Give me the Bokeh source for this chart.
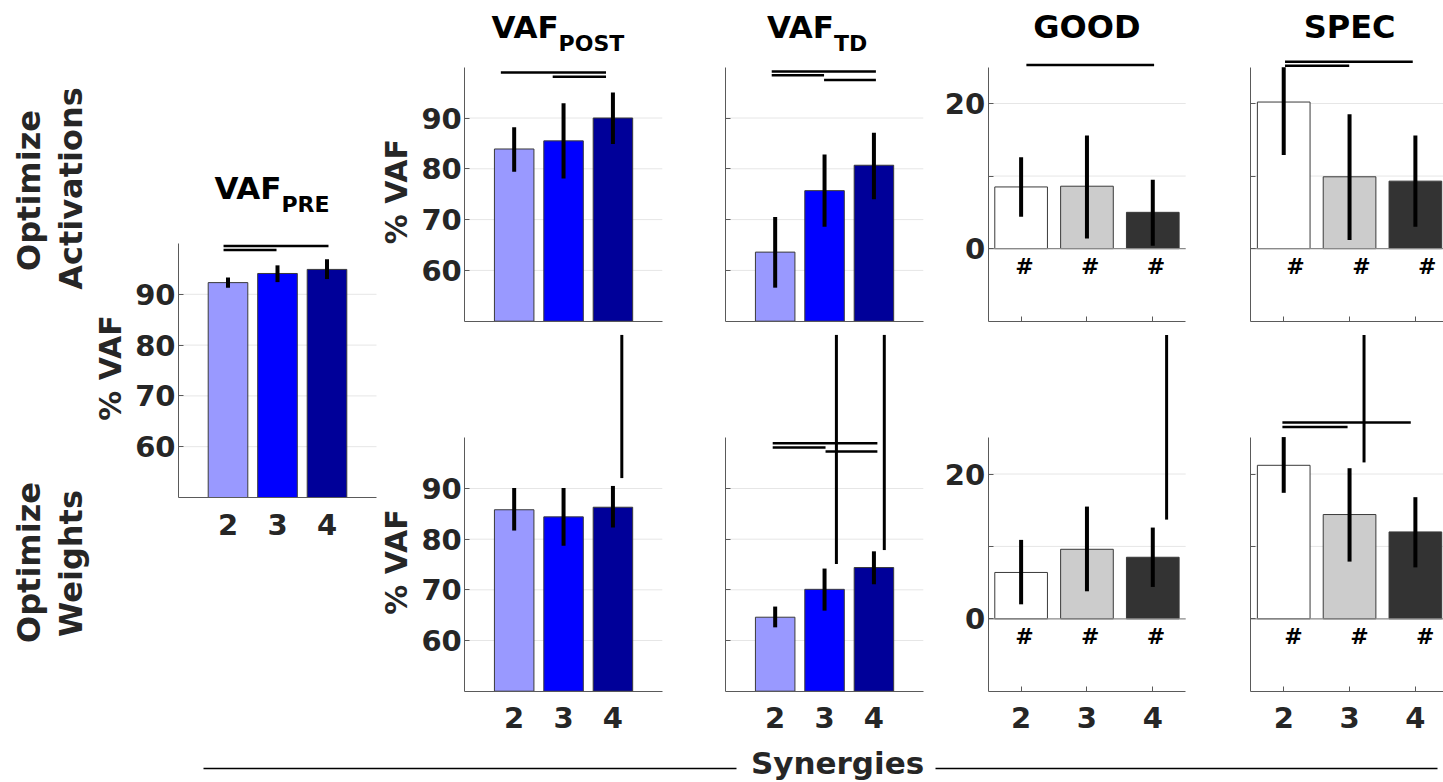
import math
from bokeh.plotting import figure
from bokeh.models import Range1d, LinearAxis, FixedTicker
from bokeh.core.properties import value
from bokeh.embed import file_html
from bokeh.resources import INLINE

W, H = 1443, 782
FONT = "DejaVu Sans"

# ---------------- data ----------------
synergies = [2, 3, 4]
tick_labels = ["2", "3", "4"]
vaf_colors = ["#9999ff", "#0000ff", "#000099"]
score_colors = ["#ffffff", "#cccccc", "#333333"]
vaf_ticks = [60, 70, 80, 90]
score_ticks = [0, 10, 20]

# VAF_PRE
pre_mean = [92.3, 94.1, 94.9]
pre_lo = [91.3, 92.4, 93.0]
pre_hi = [93.3, 95.7, 96.9]

# Optimize Activations
act_post_mean = [83.9, 85.5, 90.0]
act_post_lo = [79.4, 78.1, 84.9]
act_post_hi = [88.2, 92.9, 95.0]
act_td_mean = [63.6, 75.7, 80.7]
act_td_lo = [56.6, 68.6, 74.0]
act_td_hi = [70.5, 82.8, 87.1]
act_good_mean = [8.5, 8.6, 5.0]
act_good_lo = [4.4, 1.4, 0.4]
act_good_hi = [12.6, 15.6, 9.5]
act_spec_mean = [20.2, 9.9, 9.3]
act_spec_lo = [12.9, 1.2, 3.0]
act_spec_hi = [25.0, 18.5, 15.6]

# Optimize Weights
wt_post_mean = [85.8, 84.4, 86.3]
wt_post_lo = [81.7, 78.7, 82.3]
wt_post_hi = [90.1, 90.1, 90.5]
wt_td_mean = [64.6, 70.1, 74.4]
wt_td_lo = [62.6, 65.9, 71.1]
wt_td_hi = [66.7, 74.2, 77.6]
wt_good_mean = [6.4, 9.6, 8.5]
wt_good_lo = [2.0, 3.8, 4.4]
wt_good_hi = [10.9, 15.5, 12.6]
wt_spec_mean = [21.2, 14.4, 12.0]
wt_spec_lo = [17.4, 7.9, 7.1]
wt_spec_hi = [25.1, 20.8, 16.8]

# significance brackets: (x_start, x_end, y)
pre_sig = [(1.91, 4.03, 99.5), (1.91, 2.98, 98.7)]
act_post_sig = [(1.73, 3.86, 98.95), (2.78, 3.86, 98.1)]
act_td_sig = [(1.93, 4.04, 99.15), (1.93, 2.99, 98.4), (2.99, 4.04, 97.5)]
act_good_sig = [(2.08, 4.02, 25.3)]
act_spec_sig = [(2.02, 3.96, 25.75), (2.02, 2.995, 25.2)]
wt_post_sig = []
wt_td_sig = [(1.95, 4.07, 98.9), (1.95, 3.02, 98.1), (3.02, 4.07, 97.3)]
wt_good_sig = []
wt_spec_sig = [(1.98, 3.93, 27.1), (1.98, 2.97, 26.5)]

# long vertical marks: (x, y_low, y_high)
wt_post_vert = [(4.18, 92.05, 120.3)]
wt_td_vert = [(3.24, 75.1, 120.3), (4.21, 77.85, 120.3)]
wt_good_vert = [(4.21, 13.7, 39.2)]
wt_spec_vert = [(3.22, 21.6, 39.2)]

# ---------------- figure ----------------
p = figure(width=W, height=H, output_backend="svg", toolbar_location=None,
           x_range=Range1d(0, W), y_range=Range1d(H, 0),
           x_axis_location=None, y_axis_location=None, min_border=0,
           outline_line_color=None)
p.grid.visible = False

xr, yr = {}, {}
AX_COL = "#5a5a5a"
LBL_COL = "#262626"


def txt(x, y, s, key=None, size="29px", align="center", baseline="middle",
        angle=0.0, color=LBL_COL, x_offset=0):
    kw = {}
    if key is not None:
        kw = dict(x_range_name=key, y_range_name=key)
    p.text(x=[x], y=[y], text=[s], text_font=value(FONT), text_font_style="bold",
           text_font_size=size, text_align=align, text_baseline=baseline,
           angle=angle, text_color=color, x_offset=x_offset, **kw)


def style_axis(ax, tick_in=5):
    ax.axis_line_color = AX_COL
    ax.axis_line_width = 1
    ax.major_tick_line_color = AX_COL
    ax.major_tick_in = tick_in
    ax.major_tick_out = 0
    ax.minor_tick_in = 0
    ax.minor_tick_out = 0
    ax.major_label_text_font = FONT
    ax.major_label_text_font_style = "bold"
    ax.major_label_text_font_size = "29px"
    ax.major_label_text_color = LBL_COL


def panel(key, box, xlim, ylim, mean, lo, hi, colors, sig, vert, kind,
          ylabels=True, xlabels=False, hash_dx=None, title=None):
    px0, px1, pt, pb = box
    sx = (px1 - px0) / (xlim[1] - xlim[0])
    sy = (pb - pt) / (ylim[1] - ylim[0])
    xr[key] = Range1d(xlim[0] - px0 / sx, xlim[0] + (W - px0) / sx)
    yr[key] = Range1d(ylim[0] - (H - pb) / sy, ylim[1] + pt / sy)
    kw = dict(x_range_name=key, y_range_name=key)

    ticks = vaf_ticks if kind == "vaf" else score_ticks
    # gridlines
    gt = [t for t in ticks if t != 0]
    p.segment(x0=[xlim[0]] * len(gt), y0=gt, x1=[xlim[1]] * len(gt), y1=gt,
              line_color="#e6e6e6", line_width=1, **kw)
    base = ylim[0] if kind == "vaf" else 0
    p.vbar(x=synergies, top=mean, bottom=base, width=0.8, fill_color=colors,
           line_color="#3a3a3a", line_width=1, **kw)
    if kind != "vaf":
        p.segment(x0=[xlim[0]], y0=[0], x1=[xlim[1]], y1=[0],
                  line_color="#8a8a8a", line_width=1.2, **kw)
    # error bars
    p.segment(x0=synergies, y0=lo, x1=synergies, y1=hi, line_color="black",
              line_width=4, **kw)
    # significance brackets
    if sig:
        p.segment(x0=[s[0] for s in sig], y0=[s[2] for s in sig],
                  x1=[s[1] for s in sig], y1=[s[2] for s in sig],
                  line_color="black", line_width=2.5, **kw)
    if vert:
        p.segment(x0=[v[0] for v in vert], y0=[v[1] for v in vert],
                  x1=[v[0] for v in vert], y1=[v[2] for v in vert],
                  line_color="black", line_width=3, **kw)
    if hash_dx is not None:
        p.text(x=[s + hash_dx for s in synergies], y=[-2.5] * 3, text=["#"] * 3,
               text_font=value(FONT), text_font_style="bold", text_font_size="22px",
               text_align="center", text_baseline="middle", text_color="black", **kw)

    # axes
    yax = LinearAxis(ticker=FixedTicker(ticks=ticks), fixed_location=xlim[0],
                     bounds=ylim, **kw)
    style_axis(yax, tick_in=5)
    if not ylabels:
        yax.major_label_overrides = {t: "" for t in ticks}
    elif kind != "vaf":
        yax.major_label_overrides = {10: ""}
    yax.major_label_standoff = 3
    p.add_layout(yax, "left")

    xax = LinearAxis(ticker=FixedTicker(ticks=synergies), fixed_location=ylim[0],
                     bounds=xlim, **kw)
    style_axis(xax, tick_in=0 if kind == "vaf" else 5)
    xax.major_label_overrides = {s: (t if xlabels else "") for s, t in zip(synergies, tick_labels)}
    xax.major_label_standoff = 16
    p.add_layout(xax, "below")

    if kind == "vaf" and ylabels:
        txt(xlim[0], 75.5, "% VAF", key=key, size="30px", angle=math.pi / 2,
            x_offset=-68)

    if title is not None:
        main, sub, tx, ty, ty_sub = title
        if sub:
            txt(tx, ty, main, key=key, size="31px", align="right",
                baseline="alphabetic", color="black")
            txt(tx, ty_sub, sub, key=key, size="22px", align="left",
                baseline="alphabetic", color="black")
        else:
            txt(tx, ty, main, key=key, size="32px", align="center",
                baseline="alphabetic", color="black")


VX, SX = (1, 5), (1.5, 4.5)
VY, SY = (50, 100), (-10, 25)
TOP, BOT = (66.7, 320.7), (437.3, 690.7)
COLS = [464.3, 725.3, 987.7, 1250.3]
WD = 197.5

panel("pre", (178, 376, 243, 497), VX, VY, pre_mean, pre_lo, pre_hi, vaf_colors,
      pre_sig, [], "vaf", ylabels=True, xlabels=True,
      title=("VAF", "PRE", 3.08, 110.9, 107.7))

panel("a_post", (COLS[0], COLS[0] + WD) + TOP, VX, VY, act_post_mean, act_post_lo,
      act_post_hi, vaf_colors, act_post_sig, [], "vaf", ylabels=True,
      title=("VAF", "POST", 2.90, 108.0, 104.6))
panel("a_td", (COLS[1], COLS[1] + WD) + TOP, VX, VY, act_td_mean, act_td_lo,
      act_td_hi, vaf_colors, act_td_sig, [], "vaf", ylabels=False,
      title=("VAF", "TD", 3.19, 108.0, 104.6))
panel("a_good", (COLS[2], COLS[2] + WD) + TOP, SX, SY, act_good_mean, act_good_lo,
      act_good_hi, score_colors, act_good_sig, [], "score", ylabels=True,
      hash_dx=0.05, title=("GOOD", None, 3.0, 30.6, None))
panel("a_spec", (COLS[3], COLS[3] + WD) + TOP, SX, SY, act_spec_mean, act_spec_lo,
      act_spec_hi, score_colors, act_spec_sig, [], "score", ylabels=False,
      hash_dx=0.18, title=("SPEC", None, 3.0, 30.6, None))

panel("w_post", (COLS[0], COLS[0] + WD) + BOT, VX, VY, wt_post_mean, wt_post_lo,
      wt_post_hi, vaf_colors, wt_post_sig, wt_post_vert, "vaf", ylabels=True,
      xlabels=True)
panel("w_td", (COLS[1], COLS[1] + WD) + BOT, VX, VY, wt_td_mean, wt_td_lo,
      wt_td_hi, vaf_colors, wt_td_sig, wt_td_vert, "vaf", ylabels=False,
      xlabels=True)
panel("w_good", (COLS[2], COLS[2] + WD) + BOT, SX, SY, wt_good_mean, wt_good_lo,
      wt_good_hi, score_colors, wt_good_sig, wt_good_vert, "score", ylabels=True,
      xlabels=True, hash_dx=0.05)
panel("w_spec", (COLS[3], COLS[3] + WD) + BOT, SX, SY, wt_spec_mean, wt_spec_lo,
      wt_spec_hi, score_colors, wt_spec_sig, wt_spec_vert, "score", ylabels=False,
      xlabels=True, hash_dx=0.15)

p.extra_x_ranges = xr
p.extra_y_ranges = yr

# row labels (page coordinates, y measured from top)
txt(28, 190, "Optimize", size="32px", baseline="alphabetic", angle=math.pi / 2)
txt(70, 188, "Activations", size="32px", baseline="alphabetic", angle=math.pi / 2)
txt(28, 562, "Optimize", size="32px", baseline="alphabetic", angle=math.pi / 2)
txt(70, 563, "Weights", size="32px", baseline="alphabetic", angle=math.pi / 2)

# shared x label
p.segment(x0=[203, 935], y0=[768, 768], x1=[736, 1437], y1=[768, 768],
          line_color="black", line_width=1.5)
txt(837, 762, "Synergies", size="31px", baseline="alphabetic")

open("out.html", "w").write(file_html(p, INLINE))
